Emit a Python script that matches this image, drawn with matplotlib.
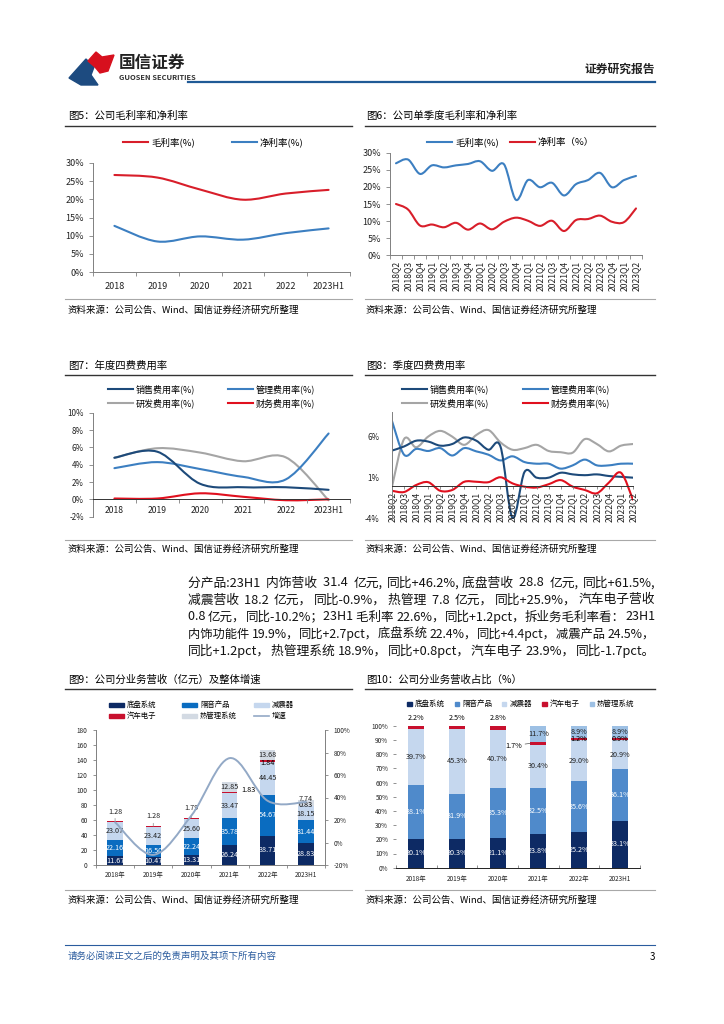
import re
import numpy as np
import matplotlib
matplotlib.use('Agg')
import matplotlib.pyplot as plt
from matplotlib.path import Path
from matplotlib.patches import PathPatch, Polygon, Rectangle
from matplotlib.lines import Line2D
from matplotlib.ticker import FuncFormatter

plt.rcParams['font.family'] = ['Noto Sans CJK SC', 'DejaVu Sans']
plt.rcParams['axes.unicode_minus'] = False

# ---- data ----
years = ['2018', '2019', '2020', '2021', '2022', '2023H1']
gross_year = [26.7, 26.0, 22.7, 19.9, 21.6, 22.6]
net_year = [12.7, 8.4, 9.8, 8.9, 10.7, 12.0]

quarters = ['2018Q2', '2018Q3', '2018Q4', '2019Q1', '2019Q2', '2019Q3', '2019Q4',
            '2020Q1', '2020Q2', '2020Q3', '2020Q4', '2021Q1', '2021Q2', '2021Q3',
            '2021Q4', '2022Q1', '2022Q2', '2022Q3', '2022Q4', '2023Q1', '2023Q2']
gross_q = [26.9, 28.0, 23.8, 26.3, 25.7, 26.3, 26.7, 27.5, 24.7, 26.6, 16.2,
           22.0, 19.9, 21.2, 17.5, 20.8, 22.0, 24.1, 19.9, 22.0, 23.2]
net_q = [15.0, 13.4, 8.7, 9.0, 8.2, 9.5, 7.5, 9.3, 7.6, 9.8, 11.0,
         10.1, 8.6, 10.1, 7.1, 10.3, 10.6, 11.6, 9.8, 9.7, 13.7]

sales_year = [4.8, 5.5, 1.8, 1.4, 1.4, 1.1]
admin_year = [3.6, 4.3, 3.5, 2.6, 2.3, 7.6]
rd_year = [4.8, 5.9, 5.4, 4.4, 4.85, -0.1]
fin_year = [0.1, 0.1, 0.7, 0.3, -0.1, 0.0]

sales_q = [4.3, 4.8, 5.5, 5.4, 4.9, 5.1, 5.9, 5.5, 4.4, 4.8, -3.9,
           1.7, 1.0, 1.0, 1.6, 1.4, 1.3, 1.4, 1.2, 1.1, 1.0]
admin_q = [7.9, 3.8, 4.5, 4.25, 4.6, 3.7, 4.6, 4.2, 3.8, 3.1, 3.6,
           2.9, 2.7, 2.7, 2.1, 2.5, 3.2, 2.5, 2.5, 2.7, 2.7]
rd_q = [-0.1, 5.7, 4.7, 6.0, 6.7, 6.0, 5.0, 6.2, 6.8, 5.3, 4.4,
        4.6, 5.0, 4.25, 4.1, 4.05, 5.7, 5.1, 4.2, 4.9, 5.1]
fin_q = [-0.6, -0.75, 0.1, 0.45, -0.6, -0.5, 0.5, 0.5, 0.45, 1.05, 0.3,
         -0.1, -0.2, 0.2, 0.7, -0.1, -0.5, -0.9, 0.4, 1.6, -1.7]

seg_years = ['2018年', '2019年', '2020年', '2021年', '2022年', '2023H1']
chassis = [11.67, 10.47, 13.31, 26.24, 38.71, 28.83]
acoustic = [22.16, 16.50, 22.24, 35.78, 54.67, 31.44]
damper = [23.07, 23.42, 25.60, 33.47, 44.45, 18.15]
electronics = [1.28, 1.28, 1.79, 1.83, 1.84, 0.83]
thermal = [0, 0, 0, 12.85, 13.68, 7.74]
growth = [18, -11, 24, 75, 37, 36]

share_chassis = [20.1, 20.3, 21.1, 23.8, 25.2, 33.1]
share_acoustic = [38.1, 31.9, 35.3, 32.5, 35.6, 36.1]
share_damper = [39.7, 45.3, 40.7, 30.4, 29.0, 20.9]
share_elec = [2.2, 2.5, 2.8, 1.7, 1.2, 0.9]
share_thermal = [0, 0, 0, 11.7, 8.9, 8.9]

seg_names = ['底盘系统', '隔音产品', '减震器', '汽车电子', '热管理系统']

para = ['分产品:23H1 内饰营收 31.4 亿元,同比+46.2%,底盘营收 28.8 亿元,同比+61.5%,',
        '减震营收 18.2 亿元，同比-0.9%，热管理 7.8 亿元，同比+25.9%，汽车电子营收',
        '0.8 亿元，同比-10.2%；23H1 毛利率 22.6%，同比+1.2pct，拆业务毛利率看：23H1',
        '内饰功能件 19.9%，同比+2.7pct，底盘系统 22.4%，同比+4.4pct，减震产品 24.5%，',
        '同比+1.2pct，热管理系统 18.9%，同比+0.8pct，汽车电子 23.9%，同比-1.7pct。']

source = '资料来源：公司公告、Wind、国信证券经济研究所整理'

RED = '#D81E2A'
BLUE = '#3C7FC1'
NAVY = '#1D4A7A'
GRAY = '#A5A5A5'
DNAVY = '#0D2A64'
GRID = '#808080'

W, H = 724, 1024
fig = plt.figure(figsize=(W / 100, H / 100), dpi=100)


def rect(l, t, r, b):
    return [l / W, 1 - b / H, (r - l) / W, (b - t) / H]


def hline(x0, x1, y, color, lw):
    fig.add_artist(Line2D([x0 / W, x1 / W], [1 - y / H, 1 - y / H], color=color, lw=lw))


def ftext(x, y, s, **kw):
    return fig.text(x / W, 1 - y / H, s, **kw)


def leg_line(x, y, color, label, size, length=25, lw=1.5):
    fig.add_artist(Line2D([x / W, (x + length) / W], [1 - y / H] * 2, color=color, lw=lw))
    ftext(x + length + 3, y, label, fontsize=size, va='center')


def leg_box(x, y, color, label, size, w=15, h=4.5, gap=3):
    fig.add_artist(Rectangle((x / W, 1 - (y + h / 2) / H), w / W, h / H, color=color,
                             transform=fig.transFigure))
    ftext(x + w + gap, y, label, fontsize=size, va='center')


def smooth_path(x, y):
    pts = np.column_stack([x, y]).astype(float)
    n = len(pts)
    verts = [pts[0]]
    codes = [Path.MOVETO]
    for i in range(n - 1):
        p0 = pts[i - 1] if i > 0 else pts[i]
        p1 = pts[i]
        p2 = pts[i + 1]
        p3 = pts[i + 2] if i + 2 < n else pts[i + 1]
        verts += [p1 + (p2 - p0) / 6, p2 - (p3 - p1) / 6, p2]
        codes += [Path.CURVE4] * 3
    return Path(verts, codes)


def smooth(ax, x, y, color, lw=1.5):
    ax.add_patch(PathPatch(smooth_path(x, y), fill=False, edgecolor=color, lw=lw,
                           capstyle='round', joinstyle='round'))


pct = FuncFormatter(lambda v, p: '%d%%' % v)


def base_style(ax, tsize):
    for s in ['top', 'right']:
        ax.spines[s].set_visible(False)
    for s in ['left', 'bottom']:
        ax.spines[s].set_color(GRID)
        ax.spines[s].set_linewidth(0.7)
    ax.tick_params(axis='both', labelsize=tsize, colors='#222222', width=0.6, length=3)
    ax.tick_params(axis='both', which='both', color=GRID)
    ax.patch.set_alpha(0)


# ---- header ----
fig.add_artist(Polygon([(69 / W, 1 - 78 / H), (86 / W, 1 - 59 / H), (94 / W, 1 - 67 / H),
                        (91 / W, 1 - 75 / H), (98 / W, 1 - 85 / H), (81 / W, 1 - 85 / H)],
                       closed=True, color='#1D4B80', transform=fig.transFigure))
fig.add_artist(Polygon([(88 / W, 1 - 61 / H), (96 / W, 1 - 52 / H), (102 / W, 1 - 57 / H),
                        (114 / W, 1 - 55 / H), (108 / W, 1 - 71 / H), (100 / W, 1 - 73 / H),
                        (95 / W, 1 - 67 / H)],
                       closed=True, color='#D7101E', transform=fig.transFigure))
ftext(119, 63, '国信证券', fontsize=12, fontweight='bold', color='#222222', va='center')
ftext(119, 77.5, 'GUOSEN SECURITIES', fontsize=5.4, fontweight='bold', color='#333333', va='center')
ftext(655, 69, '证券研究报告', fontsize=8.5, fontweight='bold', color='#222222', va='center', ha='right')
hline(188, 655, 82, '#1F5A96', 1.6)

# ---- panel frames ----
for (x0, x1, xt) in [(65, 352, 68), (365, 655, 366)]:
    hline(x0, x1, 126, '#333333', 1.0)
    hline(x0, x1, 299, '#A8A8A8', 0.8)
    ftext(xt, 310, source, fontsize=6.8, va='center')
    hline(x0, x1, 375, '#333333', 1.0)
    hline(x0, x1, 540, '#A8A8A8', 0.8)
    ftext(xt, 549, source, fontsize=6.8, va='center')
    hline(x0, x1, 689, '#333333', 1.0)
    hline(x0, x1, 890, '#A8A8A8', 0.8)
    ftext(xt, 900, source, fontsize=6.8, va='center')

ftext(68, 116, '图5：公司毛利率和净利率', fontsize=7.5, va='center')
ftext(366, 116, '图6：公司单季度毛利率和净利率', fontsize=7.5, va='center')
ftext(68, 366, '图7：年度四费费用率', fontsize=7.5, va='center')
ftext(366, 366, '图8：季度四费费用率', fontsize=7.5, va='center')
ftext(68, 680, '图9：公司分业务营收（亿元）及整体增速', fontsize=7.5, va='center')
ftext(366, 680, '图10：公司分业务营收占比（%）', fontsize=7.5, va='center')

# ---- chart 5 ----
ax5 = fig.add_axes(rect(93, 163, 350, 272))
x5 = np.arange(len(years))
smooth(ax5, x5, gross_year, RED)
smooth(ax5, x5, net_year, BLUE)
ax5.set_xlim(-0.5, len(years) - 0.5)
ax5.set_ylim(0, 30)
ax5.set_yticks(range(0, 31, 5))
ax5.yaxis.set_major_formatter(pct)
ax5.set_xticks(x5)
ax5.set_xticklabels(years)
base_style(ax5, 6.5)
ax5.tick_params(axis='x', which='major', length=0, pad=7)
ax5.set_xticks(np.arange(-0.5, len(years)), minor=True)
ax5.tick_params(axis='x', which='minor', length=3)
leg_line(123, 142, RED, '毛利率(%)', 6.8)
leg_line(232, 142, BLUE, '净利率(%)', 6.8)

# ---- chart 6 ----
ax6 = fig.add_axes(rect(390, 152.7, 642, 255.3))
x6 = np.arange(len(quarters))
smooth(ax6, x6, gross_q, BLUE)
smooth(ax6, x6, net_q, RED)
ax6.set_xlim(-0.5, len(quarters) - 0.5)
ax6.set_ylim(0, 30)
ax6.set_yticks(range(0, 31, 5))
ax6.yaxis.set_major_formatter(pct)
ax6.set_xticks(x6)
ax6.set_xticklabels(quarters)
base_style(ax6, 6.5)
ax6.tick_params(axis='x', which='major', length=0, pad=4, labelsize=6.2, labelrotation=90)
ax6.set_xticks(np.arange(-0.5, len(quarters)), minor=True)
ax6.tick_params(axis='x', which='minor', length=3)
leg_line(427, 142, BLUE, '毛利率(%)', 6.8)
leg_line(510, 142, RED, '净利率（%）', 6.8)

# ---- chart 7 ----
ax7 = fig.add_axes(rect(93, 412.7, 350, 516.7))
ax7.spines['bottom'].set_position(('data', 0))
x7 = np.arange(len(years))
smooth(ax7, x7, rd_year, GRAY)
smooth(ax7, x7, admin_year, BLUE)
smooth(ax7, x7, sales_year, NAVY)
smooth(ax7, x7, fin_year, '#E0101E')
ax7.set_xlim(-0.5, len(years) - 0.5)
ax7.set_ylim(-2, 10)
ax7.set_yticks(range(-2, 11, 2))
ax7.yaxis.set_major_formatter(pct)
ax7.set_xticks(x7)
ax7.set_xticklabels(years)
base_style(ax7, 5.8)
ax7.spines['bottom'].set_color('#333333')
ax7.tick_params(axis='x', which='major', length=0, pad=5, labelsize=6.2)
ax7.set_xticks(np.arange(-0.5, len(years)), minor=True)
ax7.tick_params(axis='x', which='minor', length=3)
leg_line(108, 389, NAVY, '销售费用率(%)', 6.5)
leg_line(228, 389, BLUE, '管理费用率(%)', 6.5)
leg_line(108, 403, GRAY, '研发费用率(%)', 6.5)
leg_line(228, 403, '#E0101E', '财务费用率(%)', 6.5)

# ---- chart 8 ----
ax8 = fig.add_axes(rect(392, 412, 633, 518.7))
ax8.spines['bottom'].set_position(('data', 0))
x8 = np.arange(len(quarters))
smooth(ax8, x8, rd_q, GRAY)
smooth(ax8, x8, admin_q, BLUE)
smooth(ax8, x8, sales_q, NAVY)
smooth(ax8, x8, fin_q, '#E0101E')
ax8.set_xlim(0, len(quarters) - 1)
ax8.set_ylim(-4, 9)
ax8.set_yticks([-4, 1, 6])
ax8.yaxis.set_major_formatter(pct)
ax8.set_xticks(x8)
ax8.set_xticklabels(quarters)
base_style(ax8, 5.8)
ax8.spines['bottom'].set_color('#333333')
ax8.tick_params(axis='y', length=0, pad=9)
ax8.tick_params(axis='x', length=2, pad=2, labelsize=6.2, labelrotation=90)
leg_line(402, 389, NAVY, '销售费用率(%)', 6.5)
leg_line(523, 389, BLUE, '管理费用率(%)', 6.5)
leg_line(402, 403, GRAY, '研发费用率(%)', 6.5)
leg_line(523, 403, '#E0101E', '财务费用率(%)', 6.5)

# ---- paragraph, justified between x=188 and x=655 ----
renderer = fig.canvas.get_renderer()
PX0, PX1, PSIZE = 188, 655, 9.2
for i, line in enumerate(para):
    y = 583 + 17 * i
    toks = re.findall(r'[^，,；：。 ]+[，,；：。 ]*|[，,；：。 ]+', line)
    arts = [ftext(PX0, y, tk, fontsize=PSIZE, va='center', color='#111111') for tk in toks]
    widths = [a.get_window_extent(renderer).width for a in arts]
    gap = (PX1 - PX0 - sum(widths)) / max(len(toks) - 1, 1)
    if gap < 0:
        scale = (PX1 - PX0) / sum(widths)
        widths = [w * scale for w in widths]
        for a in arts:
            a.set_fontsize(PSIZE * scale)
        gap = 0
    x = PX0
    for a, w in zip(arts, widths):
        a.set_position((x / W, 1 - y / H))
        x += w + gap

# ---- chart 9 ----
C9 = [DNAVY, '#0A6CC0', '#C5D7EE', '#C8102E', '#D3DAE3']
ax9 = fig.add_axes(rect(96, 730, 325, 865))
x9 = np.arange(len(seg_years))
segs9 = [chassis, acoustic, damper, electronics, thermal]
bottom = np.zeros(len(seg_years))
for k, vals in enumerate(segs9):
    vals = np.array(vals, dtype=float)
    ax9.bar(x9, vals, 0.4, bottom=bottom, color=C9[k], zorder=2)
    for i, v in enumerate(vals):
        if v <= 0:
            continue
        yc = bottom[i] + v / 2
        if k == 3:
            if i < 3:
                top = bottom[i] + v
                ax9.annotate('%.2f' % v, xy=(i, top), xytext=(i, top + 13), ha='center',
                             va='center', fontsize=5.2, color='#222222',
                             arrowprops=dict(arrowstyle='-', lw=0.5, color='#888888',
                                             shrinkA=3, shrinkB=0))
            elif i == 3:
                ax9.text(i + 0.5, yc + 3, '%.2f' % v, ha='center', va='center', fontsize=5.2)
            elif i == 4:
                ax9.text(i, yc - 2.5, '%.2f' % v, ha='center', va='center', fontsize=5.2)
            else:
                ax9.text(i, yc + 1, '%.2f' % v, ha='center', va='center', fontsize=5.2)
        else:
            col = 'white' if k < 2 else '#222222'
            dy = 5 if (k == 4 and i == 5) else 0
            if k == 2 and i == 5:
                dy = -1.5
            ax9.text(i, yc + dy, '%.2f' % v, ha='center', va='center', fontsize=5.2, color=col, zorder=3)
    bottom += vals
ax9.set_xlim(-0.5, len(seg_years) - 0.5)
ax9.set_ylim(0, 180)
ax9.set_yticks(range(0, 181, 20))
ax9.set_xticks(x9)
ax9.set_xticklabels(seg_years)
base_style(ax9, 4.6)
ax9.tick_params(axis='x', which='major', length=0, pad=4)
ax9.set_xticks(np.arange(-0.5, len(seg_years)), minor=True)
ax9.tick_params(axis='x', which='minor', length=2.5)
ax9.tick_params(axis='y', length=2.5)
tw = ax9.twinx()
tw.set_position(rect(96, 730, 325, 865))
smooth(tw, x9, growth, '#93A9C6', lw=1.4)
tw.set_ylim(-20, 100)
tw.set_yticks(range(-20, 101, 20))
tw.yaxis.set_major_formatter(pct)
for s in ['top', 'left', 'bottom']:
    tw.spines[s].set_visible(False)
tw.spines['right'].set_color(GRID)
tw.spines['right'].set_linewidth(0.7)
tw.tick_params(axis='y', labelsize=4.6, colors='#222222', length=2.5, width=0.6)
tw.tick_params(axis='y', color=GRID)
tw.patch.set_alpha(0)

leg_box(109, 705, C9[0], seg_names[0], 5.3)
leg_box(182, 705, C9[1], seg_names[1], 5.3)
leg_box(254, 705, C9[2], seg_names[2], 5.3)
leg_box(109, 716, C9[3], seg_names[3], 5.3)
leg_box(182, 716, C9[4], seg_names[4], 5.3)
leg_line(254, 716, '#93A9C6', '增速', 5.3, length=15, lw=1.2)

# ---- chart 10 ----
C10 = [DNAVY, '#4F8ACB', '#C5D7EE', '#C8102E', '#9DC0E4']
ax10 = fig.add_axes(rect(396, 725.7, 640, 867.7))
x10 = np.arange(len(seg_years))
segs10 = [share_chassis, share_acoustic, share_damper, share_elec, share_thermal]
bottom = np.zeros(len(seg_years))
for k, vals in enumerate(segs10):
    vals = np.array(vals, dtype=float)
    ax10.bar(x10, vals, 0.39, bottom=bottom, color=C10[k], zorder=2)
    for i, v in enumerate(vals):
        if v <= 0:
            continue
        yc = bottom[i] + v / 2
        lab = '%.1f%%' % v
        if k == 3:
            if i < 3:
                ax10.text(i, 105.5, lab, ha='center', va='center', fontsize=5.2)
            elif i == 3:
                ax10.annotate(lab, xy=(i - 0.2, yc), xytext=(i - 0.6, yc - 1.5), ha='center',
                              va='center', fontsize=5.2,
                              arrowprops=dict(arrowstyle='-', lw=0.5, color='#555555',
                                              shrinkA=8, shrinkB=0))
            else:
                ax10.text(i, yc, lab, ha='center', va='center', fontsize=5.2)
        else:
            col = 'white' if k < 2 else '#222222'
            ax10.text(i, yc, lab, ha='center', va='center', fontsize=5.2, color=col, zorder=3)
    bottom += vals
ax10.set_xlim(-0.5, len(seg_years) - 0.5)
ax10.set_ylim(0, 100)
ax10.set_yticks(range(0, 101, 10))
ax10.yaxis.set_major_formatter(pct)
ax10.set_xticks(x10)
ax10.set_xticklabels(seg_years)
base_style(ax10, 4.6)
ax10.spines['left'].set_visible(False)
ax10.spines['bottom'].set_color('#222222')
ax10.tick_params(axis='y', length=2.5, pad=3)
ax10.tick_params(axis='x', which='major', length=0, pad=5)
ax10.set_xticks(np.arange(-0.5, len(seg_years)), minor=True)
ax10.tick_params(axis='x', which='minor', length=2.5, direction='in')

lx = 407
for name, c in zip(seg_names, C10):
    leg_box(lx, 704, c, name, 5.4, w=4.5, h=4.5, gap=3)
    lx += 4.5 + 3 + len(name) * 7.5 + 10

# ---- footer ----
hline(65, 655, 945, '#2B5C9E', 0.8)
ftext(68, 956, '请务必阅读正文之后的免责声明及其项下所有内容', fontsize=6.8, style='italic',
      color='#2B5C9E', va='center')
ftext(655, 957, '3', fontsize=7, va='center', ha='right')

fig.savefig('out.png', dpi=100)
